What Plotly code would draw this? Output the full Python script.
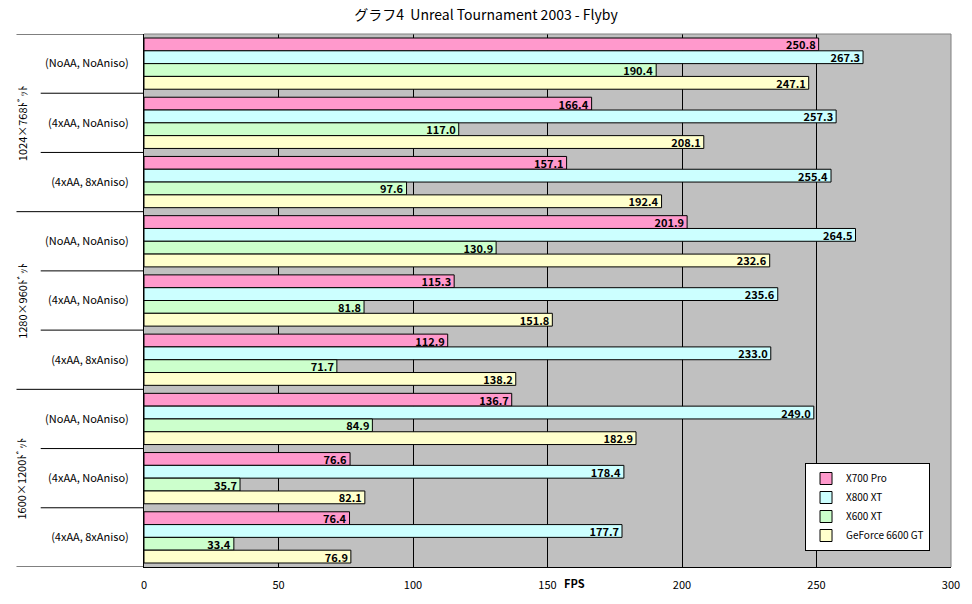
import plotly.graph_objects as go

resolutions = ["1024×768ﾄﾞｯﾄ", "1280×960ﾄﾞｯﾄ", "1600×1200ﾄﾞｯﾄ"]
settings = ["(NoAA, NoAniso)", "(4xAA, NoAniso)", "(4xAA, 8xAniso)"]
series_names = ["X700 Pro", "X800 XT", "X600 XT", "GeForce 6600 GT"]
x700 = [250.8, 166.4, 157.1, 201.9, 115.3, 112.9, 136.7, 76.6, 76.4]
x800 = [267.3, 257.3, 255.4, 264.5, 235.6, 233.0, 249.0, 178.4, 177.7]
x600 = [190.4, 117.0, 97.6, 130.9, 81.8, 71.7, 84.9, 35.7, 33.4]
gf6600 = [247.1, 208.1, 192.4, 232.6, 151.8, 138.2, 182.9, 82.1, 76.9]
x_ticks = [0, 50, 100, 150, 200, 250, 300]

colors = ["#FF99CC", "#CCFFFF", "#CCFFCC", "#FFFFCC"]
FONT = "Noto Sans CJK JP"

rows = [s for r in resolutions for s in settings]
ypos = list(range(len(rows)))

fig = go.Figure()
for name, vals, col in zip(series_names, [x700, x800, x600, gf6600], colors):
    fig.add_trace(go.Bar(
        x=vals, y=ypos, orientation="h", name=name,
        marker=dict(color=col, line=dict(color="black", width=1)),
        texttemplate="<b>%{x:.1f}</b>", textposition="inside",
        insidetextanchor="end", constraintext="none",
        textfont=dict(family=FONT, size=11, color="black"),
        cliponaxis=False,
    ))

shapes = []
for b in [-0.5, 2.5, 5.5, 8.5]:
    shapes.append(dict(type="line", xref="paper", yref="y", x0=-0.158, x1=0,
                       y0=b, y1=b, line=dict(color="black", width=1)))
for b in [0.5, 1.5, 3.5, 4.5, 6.5, 7.5]:
    shapes.append(dict(type="line", xref="paper", yref="y", x0=-0.128, x1=0,
                       y0=b, y1=b, line=dict(color="black", width=1)))
shapes.append(dict(type="line", xref="paper", yref="paper", x0=0, x1=1, y0=1, y1=1,
                   line=dict(color="#808080", width=1)))
shapes.append(dict(type="line", xref="paper", yref="paper", x0=1, x1=1, y0=0, y1=1,
                   line=dict(color="#808080", width=1)))

annotations = []
for i, r in enumerate(resolutions):
    annotations.append(dict(text=r, xref="paper", yref="y", x=-0.152, y=i * 3 + 1,
                            xanchor="center", yanchor="middle",
                            textangle=-90, showarrow=False,
                            font=dict(family=FONT, size=11, color="black")))
annotations.append(dict(text="<b>FPS</b>", xref="x", yref="paper", x=160, y=-0.03,
                        yanchor="middle", showarrow=False,
                        font=dict(family=FONT, size=11, color="black")))

fig.update_layout(
    width=972, height=604,
    margin=dict(l=144, r=18, t=34, b=32),
    paper_bgcolor="white", plot_bgcolor="#C0C0C0",
    barmode="group", bargap=0.135, bargroupgap=0,
    title=dict(text="グラフ4  Unreal Tournament 2003 - Flyby", x=0.5, xanchor="center",
               y=0.975, yanchor="middle",
               font=dict(family=FONT, size=14, color="black")),
    font=dict(family=FONT, size=11, color="black"),
    xaxis=dict(range=[0, 300], tickvals=x_ticks, showgrid=True, gridcolor="black",
               gridwidth=1, zeroline=False, showline=True, linecolor="black",
               linewidth=1, ticks="", ticklabelstandoff=8,
               tickfont=dict(family=FONT, size=11)),
    yaxis=dict(range=[8.5, -0.5], tickvals=ypos, ticktext=[s for s in rows],
               showgrid=False, zeroline=False, showline=True, linecolor="black",
               linewidth=1, ticks="", ticklabelstandoff=12,
               tickfont=dict(family=FONT, size=11)),
    legend=dict(x=0.974, y=0.03, xanchor="right", yanchor="bottom",
                bgcolor="white", bordercolor="black", borderwidth=1,
                traceorder="normal", font=dict(family=FONT, size=10),
                itemwidth=30, tracegroupgap=0),
    shapes=shapes, annotations=annotations,
    showlegend=True,
)
fig.write_html("out.html")
